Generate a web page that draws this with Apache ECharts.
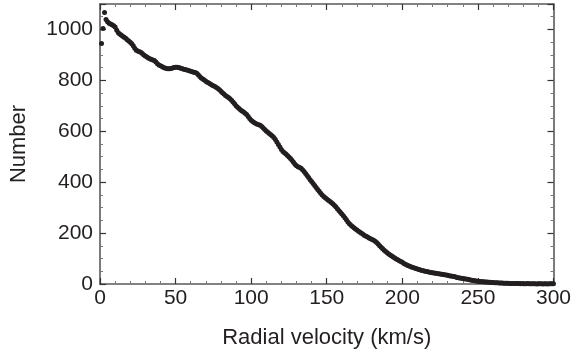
<!DOCTYPE html>
<html>
<head>
<meta charset="utf-8">
<script src="https://cdn.jsdelivr.net/npm/echarts@6/dist/echarts.min.js"></script>
<style>
html,body{margin:0;padding:0;background:#fff;}
#chart{width:574px;height:358px;}
</style>
</head>
<body>
<div id="chart"></div>
<script>
// Radial velocity bins (km/s): 1, 2, ..., 300
const velocityFirst = 1;
const velocityBinWidth = 1;
// Number of objects per bin
const counts = [
  945, 1004, 1067, 1039, 1030, 1024, 1021, 1018, 1015, 1010,
  998, 988, 982, 978, 973, 969, 965, 960, 955, 950,
  944, 936, 926, 918, 915, 912, 910, 906, 900, 896,
  892, 888, 885, 882, 880, 878, 872, 865, 860, 857,
  854, 851, 849, 847, 846, 846, 847, 849, 851, 852,
  852, 851, 849, 847, 845, 843, 842, 840, 838, 836,
  834, 832, 831, 828, 822, 815, 809, 805, 801, 797,
  793, 790, 786, 782, 779, 776, 772, 768, 763, 757,
  751, 746, 741, 737, 733, 728, 722, 715, 708, 700,
  694, 689, 684, 680, 676, 671, 666, 658, 650, 643,
  638, 634, 631, 628, 626, 624, 619, 613, 607, 601,
  596, 591, 586, 581, 576, 568, 558, 548, 538, 528,
  521, 516, 511, 505, 499, 493, 486, 478, 470, 465,
  461, 458, 455, 449, 442, 434, 426, 418, 410, 403,
  395, 387, 379, 371, 364, 357, 350, 344, 339, 334,
  329, 325, 320, 315, 309, 303, 296, 289, 282, 275,
  268, 260, 252, 244, 237, 231, 226, 221, 216, 212,
  207, 203, 199, 195, 191, 188, 185, 181, 178, 175,
  172, 168, 163, 157, 150, 144, 138, 133, 128, 123,
  118, 114, 110, 106, 102, 98, 95, 91, 88, 85,
  81, 78, 75, 72, 70, 67, 65, 63, 61, 59,
  57, 55, 53, 52, 50, 49, 48, 46, 45, 44,
  43, 42, 41, 40, 39, 38, 37, 36, 35, 34,
  32, 31, 30, 29, 28, 26, 25, 24, 23, 22,
  21, 20, 19, 18, 16, 15, 14, 13, 12, 11,
  10, 10, 9, 9, 8, 8, 7, 7, 6, 6,
  5, 5, 5, 4, 4, 4, 3, 3, 3, 3,
  2, 2, 2, 2, 2, 2, 2, 1, 2, 1,
  1, 1, 2, 1, 1, 1, 1, 1, 0, 1,
  1, 1, 0, 1, 1, 0, 1, 1, 1, 1
];
const xTicks = [0, 50, 100, 150, 200, 250, 300];
const yTicks = [0, 200, 400, 600, 800, 1000];
const xTitle = 'Radial velocity (km/s)';
const yTitle = 'Number';

const points = counts.map((n, i) => [velocityFirst + i * velocityBinWidth, n]);

const font = '"Liberation Sans", Arial, Helvetica, sans-serif';
const ink = '#231f20';
const frame = '#5a5a5a';

function xAx(pos, show) {
  return {
    type: 'value', position: pos, min: xTicks[0], max: xTicks[xTicks.length - 1],
    interval: xTicks[1] - xTicks[0],
    axisLine: { show: true, onZero: false, lineStyle: { color: frame, width: 1.6 } },
    axisTick: { show: true, inside: true, length: 6, lineStyle: { color: '#333', width: 1.2 } },
    minorTick: { show: true, splitNumber: 5, length: 3, lineStyle: { color: '#777', width: 1 } },
    splitLine: { show: false },
    axisLabel: { show: show, margin: 4, color: ink, fontSize: 21, fontFamily: font },
    name: show ? xTitle : '', nameLocation: 'middle', nameGap: 43,
    nameTextStyle: { color: ink, fontSize: 22, fontFamily: font }
  };
}
function yAx(pos, show) {
  return {
    type: 'value', position: pos, min: 0, max: 1100, interval: 200,
    axisLine: { show: true, onZero: false, lineStyle: { color: frame, width: 1.6 } },
    axisTick: { show: true, inside: true, length: 6, lineStyle: { color: '#333', width: 1.2 } },
    minorTick: { show: true, splitNumber: 4, length: 3, lineStyle: { color: '#777', width: 1 } },
    splitLine: { show: false },
    axisLabel: { show: show, margin: 7, color: ink, fontSize: 21, fontFamily: font,
      formatter: v => (yTicks.indexOf(v) >= 0 ? String(v) : '') },
    name: show ? yTitle : '', nameLocation: 'middle', nameGap: 70, nameRotate: 90,
    nameTextStyle: { color: ink, fontSize: 22, fontFamily: font }
  };
}

const chart = echarts.init(document.getElementById('chart'), null, { renderer: 'canvas' });
chart.setOption({
  animation: false,
  backgroundColor: '#fff',
  grid: { left: 98.5, right: 20, top: 4, bottom: 74, containLabel: false },
  xAxis: [xAx('bottom', true), xAx('top', false)],
  yAxis: [yAx('left', true), yAx('right', false)],
  series: [{
    type: 'scatter',
    xAxisIndex: 0, yAxisIndex: 0,
    data: points,
    symbol: 'circle',
    symbolSize: 5,
    itemStyle: { color: ink, opacity: 1 },
    clip: false
  }]
});
</script>
</body>
</html>
